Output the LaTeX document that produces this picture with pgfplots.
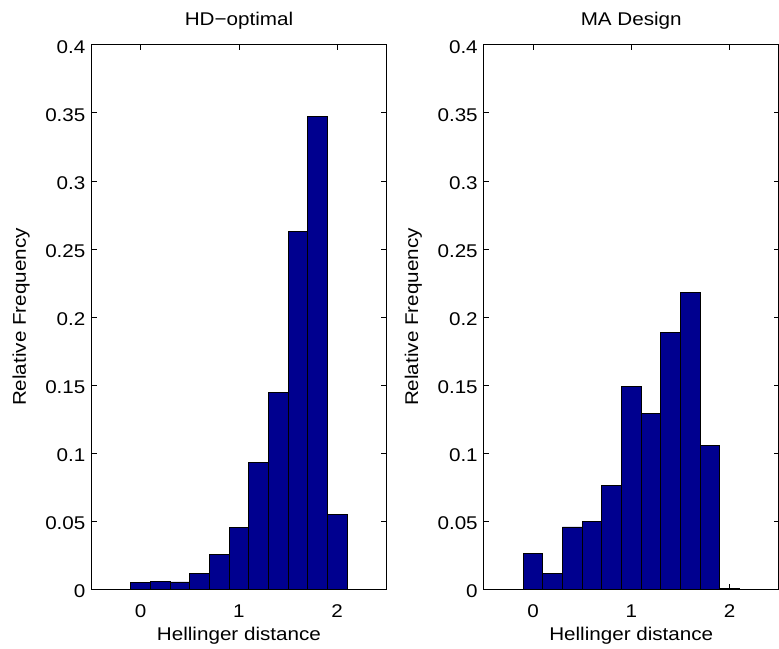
\documentclass[border=0pt]{standalone}
\usepackage{fontspec}
\setmainfont{Liberation Sans}[FakeStretch=1.12]
\usepackage{pgfplots}
\pgfplotsset{compat=1.18}
\definecolor{barblue}{RGB}{0,0,143}
\pgfplotstableread{
x y
0.0 0.0051
0.2 0.0060
0.4 0.0055
0.6 0.0120
0.8 0.0254
1.0 0.0456
1.2 0.0930
1.4 0.1446
1.6 0.2628
1.8 0.3475
2.0 0.0549
}\hdopt
\pgfplotstableread{
x y
0.0 0.0263
0.2 0.0120
0.4 0.0459
0.6 0.0500
0.8 0.0763
1.0 0.1488
1.2 0.1295
1.4 0.1890
1.6 0.2183
1.8 0.1058
2.0 0.0007
}\madesign
\begin{document}
\begin{tikzpicture}
\pgfplotsset{
  hist/.style={
    scale only axis, width=296pt, height=547pt,
    anchor=south west,
    xmin=-0.5, xmax=2.5, ymin=0, ymax=0.4,
    xtick={0,1,2}, xticklabels={0,1,2},
    ytick={0,0.05,0.1,0.15,0.2,0.25,0.3,0.35,0.4},
    yticklabels={0,0.05,0.1,0.15,0.2,0.25,0.3,0.35,0.4},
    tick align=inside, tick pos=both,
    major tick length=5pt,
    axis line style={line width=0.8pt},
    every tick/.style={black, line width=0.8pt},
    ticklabel style={font=\fontsize{18.5}{22}\selectfont, inner sep=0pt},
    xticklabel style={anchor=base, yshift=-28pt},
    yticklabel style={anchor=east, xshift=-6pt, yshift=-2pt},
    xlabel={Hellinger distance}, ylabel={Relative Frequency},
    label style={font=\fontsize{18.5}{22}\selectfont, inner sep=0pt},
    xlabel style={at={(axis description cs:0.5,-0.0945)}, anchor=base},
    ylabel style={at={(axis description cs:-0.223,0.5)}, anchor=base},
    title style={font=\fontsize{18.5}{22}\selectfont, inner sep=0pt, at={(axis description cs:0.5,1.025)}, anchor=base, yshift=0pt},
  },
  histbar/.style={ybar, bar width=0.2, bar shift=0pt, fill=barblue, draw=black, line width=0.8pt},
}
\begin{axis}[hist, at={(92pt,59pt)}, title={HD\char"2212 optimal}]
\addplot[histbar] table[x=x,y=y] {\hdopt};
\end{axis}
\begin{axis}[hist, at={(486pt,59pt)}, title={MA Design}]
\addplot[histbar] table[x=x,y=y] {\madesign};
\end{axis}
\useasboundingbox (0pt,0pt) rectangle (779pt,651pt);
\end{tikzpicture}
\end{document}
